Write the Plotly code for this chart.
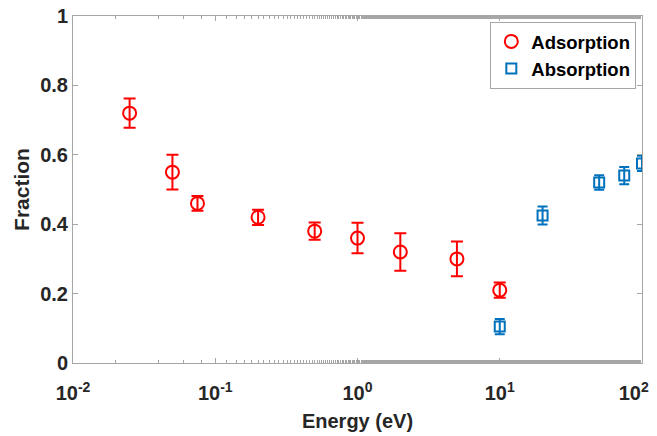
import plotly.graph_objects as go

ads_energy = [0.025, 0.05, 0.075, 0.2, 0.5, 1, 2, 5, 10]
ads_frac = [0.72, 0.55, 0.46, 0.42, 0.38, 0.36, 0.32, 0.30, 0.21]
ads_err = [0.042, 0.05, 0.021, 0.022, 0.025, 0.044, 0.054, 0.05, 0.022]

abs_energy = [10, 20, 50, 75, 100]
abs_frac = [0.105, 0.425, 0.52, 0.54, 0.575]
abs_err = [0.022, 0.026, 0.021, 0.025, 0.022]

x_tickvals = [0.01, 0.1, 1, 10, 100]
x_ticktext = ["10<sup>-2</sup>", "10<sup>-1</sup>", "10<sup>0</sup>", "10<sup>1</sup>", "10<sup>2</sup>&nbsp;&nbsp;&nbsp;"]
y_tickvals = [0, 0.2, 0.4, 0.6, 0.8, 1]
y_ticktext = ["0", "0.2", "0.4", "0.6", "0.8", "1"]

red = "#FF0000"
blue = "#0072BD"
font = "Liberation Sans, Arial, sans-serif"

fig = go.Figure()
fig.add_trace(go.Scatter(
    x=ads_energy, y=ads_frac, mode="markers", name="<b>Adsorption</b>",
    marker=dict(symbol="circle-open", size=13, color=red, line=dict(width=2, color=red)),
    error_y=dict(type="data", array=ads_err, color=red, thickness=2, width=6),
))
fig.add_trace(go.Scatter(
    x=abs_energy, y=abs_frac, mode="markers", name="<b>Absorption</b>",
    marker=dict(symbol="square-open", size=10, color=blue, line=dict(width=2, color=blue)),
    error_y=dict(type="data", array=abs_err, color=blue, thickness=2, width=5),
))

axis_common = dict(
    showline=True, linecolor="#A6A6A6", linewidth=1, mirror="ticks",
    ticks="inside", ticklen=5, tickcolor="#A6A6A6", showgrid=False, zeroline=False,
    tickfont=dict(family=font, size=20, color="#262626"),
    ticklabeloverflow="allow", automargin=False,
)

fig.update_xaxes(
    type="log", range=[-2, 2], tickvals=x_tickvals,
    ticktext=["<b>%s</b>" % t for t in x_ticktext],
    ticklabelstandoff=12,
    title=dict(text="<b>Energy (eV)</b>", font=dict(family=font, size=20, color="#262626"), standoff=10),
    minor=dict(ticks="inside", ticklen=3, tickcolor="#A6A6A6", showgrid=False),
    **axis_common,
)
fig.update_yaxes(
    range=[0, 1], tickvals=y_tickvals, ticktext=["<b>%s</b>" % t for t in y_ticktext],
    title=dict(text="<b>Fraction</b>", font=dict(family=font, size=21, color="#262626"), standoff=4),
    **axis_common,
)

fig.update_layout(
    width=657, height=436,
    margin=dict(l=65, r=23, t=8, b=81),
    plot_bgcolor="white", paper_bgcolor="white",
    showlegend=True,
    legend=dict(
        x=0.99, y=0.983, xanchor="right", yanchor="top",
        bordercolor="#A6A6A6", borderwidth=1, bgcolor="white",
        font=dict(family=font, size=18.5, color="black"),
        itemwidth=30, tracegroupgap=0,
    ),
)

fig.write_html("out.html")
